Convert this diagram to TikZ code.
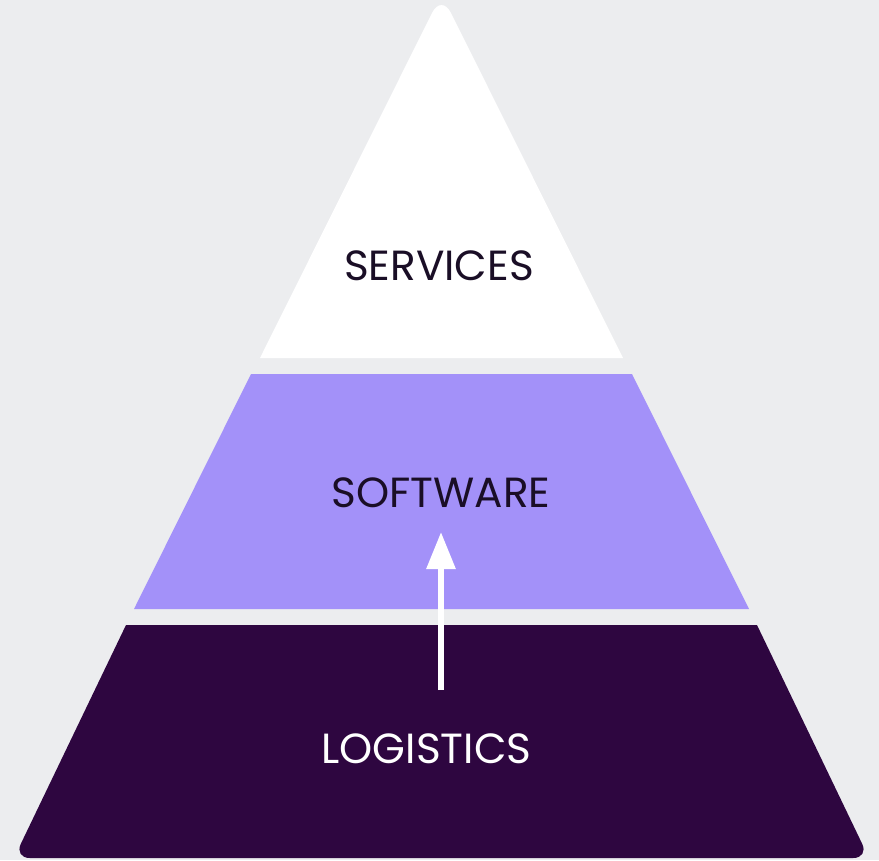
\documentclass[tikz,border=0pt]{standalone}
\usepackage{fontspec}
\setmainfont{Poppins}
\usetikzlibrary{arrows.meta}
\definecolor{bgGrey}{HTML}{ECEDEF}
\definecolor{softPurple}{HTML}{A391F9}
\definecolor{deepPurple}{HTML}{2E0640}
\definecolor{inkDark}{HTML}{1A0E26}
\tikzset{
  tierlabel/.style={font=\fontsize{24}{26}\selectfont, inner sep=0pt},
}
\begin{document}
\begin{tikzpicture}[x=0.02cm, y=-0.02cm]

\fill[bgGrey] (0,0) rectangle (879,860);
\useasboundingbox (0,0) rectangle (879,860);

\fill[white] (260,358) [rounded corners=12] -- (441.5,-6) [sharp corners] -- (623,358) -- cycle;
\fill[softPurple] (251,374) -- (632,374) -- (749,609) -- (134,609) -- cycle;
\fill[deepPurple] (126,625) -- (757,625) [rounded corners=9] -- (869,858) -- (14,858) [sharp corners] -- cycle;

\node[tierlabel, text=inkDark] (services) at (439, 265.5) {SERVICES};
\node[tierlabel, text=inkDark] (software) at (441, 492.5) {SOFTWARE};
\node[tierlabel, text=white] (logistics) at (426.5, 748.5) {LOGISTICS};

\coordinate (arrowfoot) at (441, 690);
\coordinate (arrowtip) at (441, 532);
\draw[white, line width=0.12cm, -{Triangle[width=0.56cm, length=0.74cm]}] (arrowfoot) -- (arrowtip);
\end{tikzpicture}
\end{document}
